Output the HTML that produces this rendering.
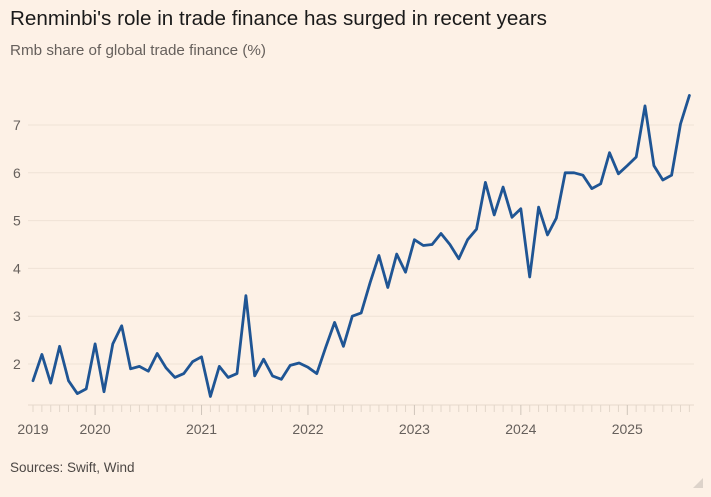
<!DOCTYPE html>
<html><head><meta charset="utf-8"><style>
html,body{margin:0;padding:0;background:#fdf1e6;}
svg{display:block;font-family:"Liberation Sans",sans-serif;}
</style></head><body>
<svg id="s" width="711" height="497" viewBox="0 0 711 497">
<rect width="711" height="497" fill="#fdf1e6"/>
<text x="10" y="25" font-size="20" fill="#1a1a1a" textLength="537" lengthAdjust="spacingAndGlyphs">Renminbi's role in trade finance has surged in recent years</text>
<text x="10" y="55" font-size="15" fill="#66605c" textLength="256" lengthAdjust="spacingAndGlyphs">Rmb share of global trade finance (%)</text>
<g id="grid"></g>
<text x="10" y="472" font-size="13.5" fill="#4d4845">Sources: Swift, Wind</text>
<path d="M693 488 L703 478 L703 488 Z" fill="#ddd3ca"/>
</svg>
<script>
var v=[1.65,2.2,1.6,2.37,1.65,1.38,1.48,2.42,1.42,2.42,2.8,1.9,1.95,1.85,2.22,1.92,1.72,1.8,2.05,2.15,1.32,1.95,1.72,1.8,3.43,1.75,2.1,1.75,1.68,1.97,2.02,1.93,1.8,2.35,2.87,2.37,3.0,3.07,3.7,4.27,3.6,4.3,3.92,4.6,4.48,4.5,4.73,4.5,4.2,4.6,4.82,5.8,5.12,5.7,5.07,5.25,3.82,5.28,4.7,5.05,6.0,6.0,5.95,5.67,5.77,6.42,5.98,6.15,6.33,7.4,6.15,5.85,5.95,7.02,7.62];
var ns="http://www.w3.org/2000/svg",g=document.getElementById('grid');
function el(t,a,txt){var e=document.createElementNS(ns,t);for(var k in a)e.setAttribute(k,a[k]);if(txt)e.textContent=txt;g.appendChild(e);return e;}
function Y(x){return 364-(x-2)*47.8;}
function X(i){return 33+i*8.87;}
for(var k=2;k<=7;k++){el('line',{x1:28,x2:694,y1:Y(k),y2:Y(k),stroke:'#efe2d6','stroke-width':1});
el('text',{x:13,y:Y(k)+5,'font-size':14,fill:'#66605c'},String(k));}
el('line',{x1:28,x2:694,y1:405,y2:405,stroke:'#e6d9cc','stroke-width':1});
for(var i=0;i<v.length;i++){var yr=(i-7)%12===0;el('line',{x1:X(i),x2:X(i),y1:405,y2:yr?415:412,stroke:yr?'#cfc4ba':'#e2d6ca','stroke-width':1});}
var yrs=['2019','2020','2021','2022','2023','2024','2025'];
for(var j=0;j<7;j++){var xi=j==0?X(0):X(7+12*(j-1));el('text',{x:xi,y:434,'font-size':14,fill:'#66605c','text-anchor':'middle'},yrs[j]);}
var p=v.map(function(x,i){return X(i).toFixed(1)+','+Y(x).toFixed(1)}).join(' ');
el('polyline',{points:p,fill:'none',stroke:'#1f5594','stroke-width':2.8,'stroke-linejoin':'round','stroke-linecap':'round'});
</script>
</body></html>
